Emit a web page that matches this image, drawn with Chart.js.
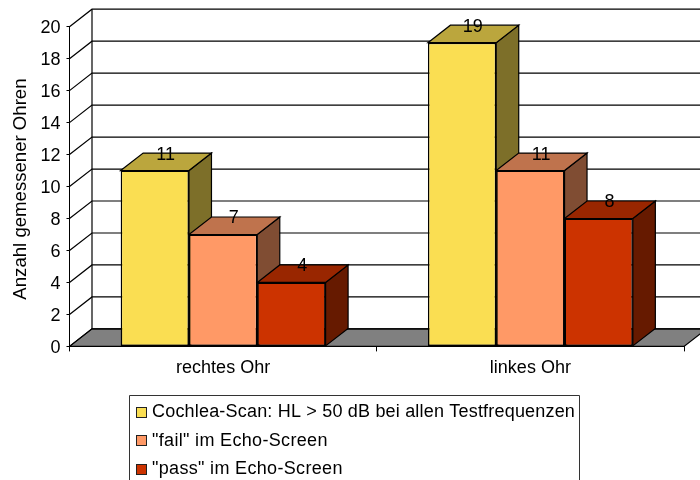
<!DOCTYPE html>
<html>
<head>
<meta charset="utf-8">
<style>html,body{margin:0;padding:0;background:#fff}canvas{display:block}</style>
<script src="https://cdn.jsdelivr.net/npm/chart.js@4/dist/chart.umd.min.js"></script>
</head>
<body>
<canvas id="c" width="700" height="480"></canvas>
<script>
const categories = ["rechtes Ohr", "linkes Ohr"];
const cochlea = [11, 19];
const fail = [7, 11];
const pass = [4, 8];
const seriesNames = ['Cochlea-Scan: HL > 50 dB bei allen Testfrequenzen', '"fail" im Echo-Screen', '"pass" im Echo-Screen'];
const fronts = ['#FADE52', '#FF9966', '#CC3300'];
const tops = ['#BBA63D', '#BF734D', '#992600'];
const sides = ['#7D6F29', '#804D33', '#661A00'];
const legendSpacing = ['0.19px', '0.33px', '0.33px'];
const FONT = '"Liberation Sans", Arial, sans-serif';
const DX = 22.5, DY = 17.5;

function poly(ctx, pts, fill) {
  ctx.beginPath();
  pts.forEach((p, i) => i ? ctx.lineTo(p[0], p[1]) : ctx.moveTo(p[0], p[1]));
  ctx.closePath();
  if (fill) { ctx.fillStyle = fill; ctx.fill(); }
  ctx.strokeStyle = '#000'; ctx.lineWidth = 1.2; ctx.stroke();
}

const walls = {
  id: 'walls',
  afterLayout(chart) {
    const y = chart.scales.y;
    const orig = y.drawTitle;
    y.drawTitle = function () {
      const c = this.ctx;
      c.save();
      c.translate(0, 2.5);
      orig.call(this);
      c.restore();
    };
  },
  beforeDraw(chart) {
    const { ctx, chartArea: a, scales: { y } } = chart;
    ctx.save();
    poly(ctx, [[a.left, a.bottom], [a.left + DX, a.bottom - DY], [a.right + DX, a.bottom - DY], [a.right, a.bottom]], '#808080');
    ctx.strokeStyle = '#000'; ctx.lineWidth = 1.2;
    y.ticks.forEach(t => {
      const py = y.getPixelForValue(t.value);
      ctx.beginPath();
      ctx.moveTo(a.left, py);
      ctx.lineTo(a.left + DX, py - DY);
      ctx.lineTo(a.right + DX, py - DY);
      ctx.stroke();
    });
    ctx.beginPath();
    ctx.moveTo(a.left + DX, a.top - DY);
    ctx.lineTo(a.left + DX, a.bottom - DY);
    ctx.stroke();
    ctx.restore();
  },
  beforeDatasetsDraw(chart) {
    const { ctx } = chart;
    ctx.save();
    const n = chart.data.labels.length;
    for (let c = 0; c < n; c++) {
      chart.data.datasets.forEach((ds, i) => {
        const el = chart.getDatasetMeta(i).data[c];
        const l = el.x - el.width / 2, r = el.x + el.width / 2;
        poly(ctx, [[r, el.base], [r + DX, el.base - DY], [r + DX, el.y - DY], [r, el.y]], sides[i]);
        poly(ctx, [[l, el.y], [l + DX, el.y - DY], [r + DX, el.y - DY], [r, el.y]], tops[i]);
      });
    }
    ctx.restore();
  },
  afterDatasetsDraw(chart) {
    const { ctx } = chart;
    ctx.save();
    ctx.font = '18px ' + FONT;
    ctx.fillStyle = '#000';
    ctx.textAlign = 'center';
    ctx.textBaseline = 'middle';
    chart.data.datasets.forEach((ds, i) => {
      chart.getDatasetMeta(i).data.forEach((el, c) => {
        ctx.fillText(String(ds.data[c]), el.x + DX / 2 - 0.5, el.y - DY + 1.5);
      });
    });
    ctx.restore();
  },
  afterDraw(chart) {
    const { ctx } = chart;
    ctx.save();
    ctx.strokeStyle = '#333'; ctx.lineWidth = 1;
    ctx.fillStyle = '#fff';
    ctx.beginPath();
    ctx.rect(129.5, 395.5, 450, 100);
    ctx.fill(); ctx.stroke();
    ctx.font = '18px ' + FONT;
    ctx.textAlign = 'left';
    ctx.textBaseline = 'middle';
    chart.data.datasets.forEach((ds, i) => {
      const yy = 412.5 + i * 28.5;
      const by = Math.round(yy - 6) + 0.5;
      ctx.fillStyle = ds.backgroundColor;
      ctx.fillRect(136.5, by, 10, 10);
      ctx.strokeStyle = '#222';
      ctx.strokeRect(136.5, by, 10, 10);
      ctx.fillStyle = '#000';
      ctx.letterSpacing = legendSpacing[i];
      ctx.fillText(ds.label, 152, yy);
    });
    ctx.restore();
  }
};

new Chart(document.getElementById('c'), {
  type: 'bar',
  data: {
    labels: categories,
    datasets: [
      { label: seriesNames[0], data: cochlea, backgroundColor: fronts[0] },
      { label: seriesNames[1], data: fail, backgroundColor: fronts[1] },
      { label: seriesNames[2], data: pass, backgroundColor: fronts[2] }
    ]
  },
  options: {
    responsive: false,
    animation: false,
    layout: { padding: { top: 26.7, right: 16, left: 0, bottom: 0 } },
    datasets: { bar: { categoryPercentage: 0.667, barPercentage: 1, borderColor: '#000', borderWidth: 1.5, borderSkipped: false } },
    plugins: { legend: { display: false }, tooltip: { enabled: false } },
    scales: {
      x: {
        afterFit: s => { s.height = 133.6; },
        grid: { drawOnChartArea: false, color: '#000', tickLength: 5 },
        border: { color: '#000' },
        ticks: { color: '#000', font: { family: FONT, size: 18 }, padding: 5.5, maxRotation: 0 }
      },
      y: {
        min: 0, max: 20,
        afterFit: s => { s.width = 69.5; },
        grid: { drawOnChartArea: false, color: '#000', tickLength: 3 },
        border: { color: '#000' },
        ticks: { stepSize: 2, color: '#000', font: { family: FONT, size: 18 }, padding: 6, labelOffset: 1.5 },
        title: { display: true, text: 'Anzahl gemessener Ohren', color: '#000', font: { family: FONT, size: 18.6 }, padding: { top: 10, bottom: 0 } }
      }
    }
  },
  plugins: [walls]
});
</script>
</body>
</html>
